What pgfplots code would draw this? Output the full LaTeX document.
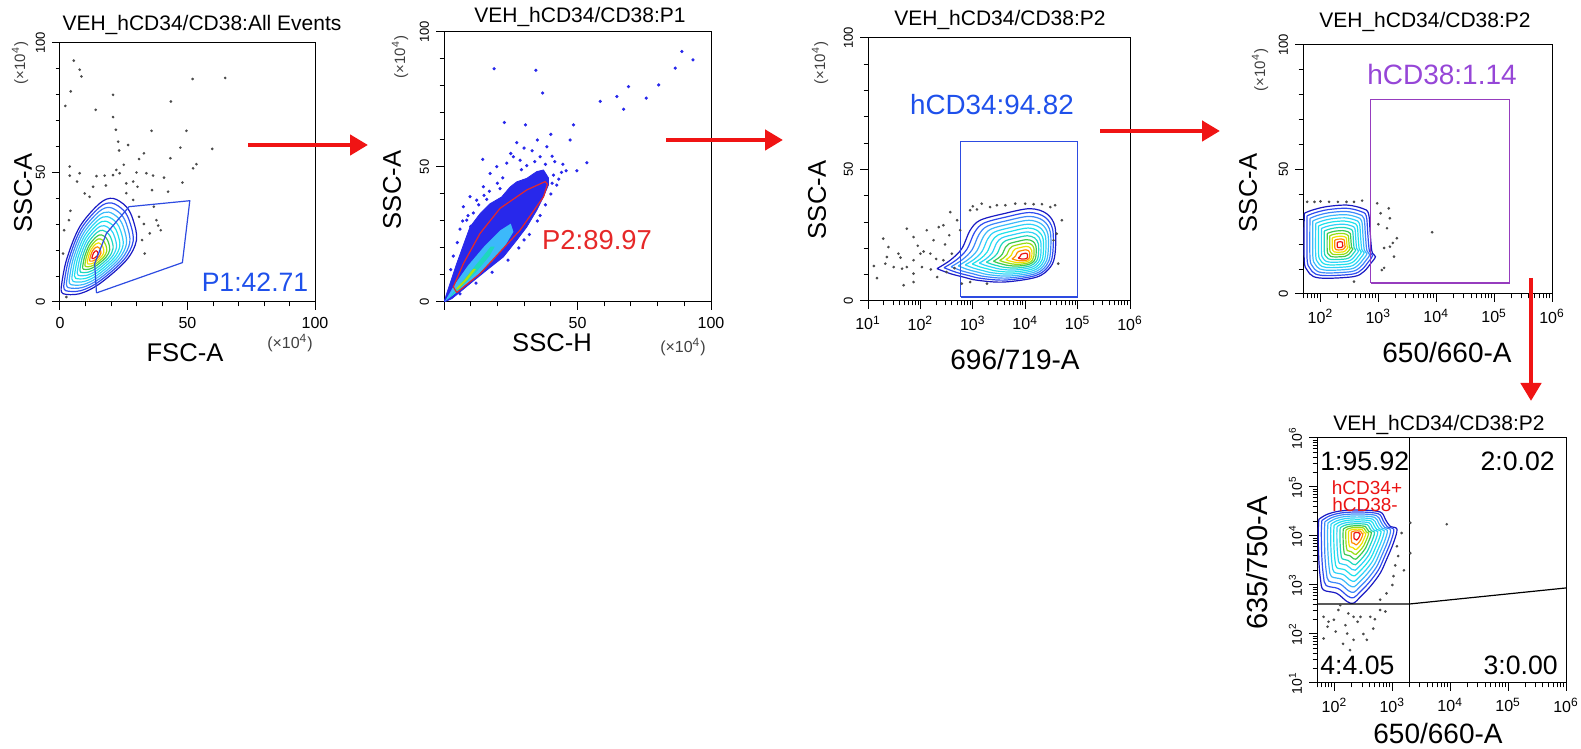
\documentclass[border=0pt]{standalone}
\usepackage{fontspec}
\setmainfont{Liberation Sans}
\usepackage{pgfplots}
\pgfplotsset{compat=1.18}
\usepackage{pgfplotstable}
\usetikzlibrary{arrows.meta}
\newcommand\ft[1]{\fontsize{#1}{#1}\selectfont}
\definecolor{cA}{RGB}{25,25,195}
\definecolor{cB}{RGB}{45,75,240}
\definecolor{cC}{RGB}{60,135,250}
\definecolor{cD}{RGB}{60,185,250}
\definecolor{cE}{RGB}{45,210,248}
\definecolor{cF}{RGB}{30,225,235}
\definecolor{cG}{RGB}{30,215,190}
\definecolor{cH}{RGB}{60,200,80}
\definecolor{cI}{RGB}{150,220,20}
\definecolor{cJ}{RGB}{240,225,0}
\definecolor{cK}{RGB}{255,140,0}
\definecolor{cL}{RGB}{235,20,20}
\definecolor{gblue}{RGB}{45,75,225}
\definecolor{tblue}{RGB}{30,80,235}
\definecolor{gred}{RGB}{230,40,40}
\definecolor{gpur}{RGB}{150,60,190}
\definecolor{tpur}{RGB}{150,70,215}
\definecolor{dblue}{RGB}{40,40,235}
\definecolor{arred}{RGB}{240,20,20}

\pgfplotstableread{
x y
0.5 5.8
2.5 16.1
7.7 29
15.6 38.1
20.8 40
26 36.8
28.7 31.6
30 23.9
26 16.1
15.6 7.1
7.7 3.2
1.2 3.2
0.5 5.8
}\cOne
\pgfplotstableread{
x y
2.315 12.3
2.57 15.5
2.79 19.9
2.95 26.9
3.14 30.7
3.59 33.2
4.09 35.1
4.41 33.2
4.57 28.1
4.57 18
4.48 12.9
4.22 9.1
3.59 7.2
3.08 7.9
2.82 9.1
2.57 10.4
2.315 12.3
}\cThree
\pgfplotstableread{
x y
1.72 32.4
1.86 33.7
2.11 35.1
2.46 35.7
2.72 34.4
2.83 32.4
2.86 24.4
2.89 17
2.95 15
2.87 12.3
2.75 9
2.58 7
2.11 6.3
1.88 7
1.77 9.6
1.72 13.7
1.72 32.4
}\cFour
\pgfplotstableread{
x y
1.73 4.34
1.87 4.44
2.10 4.51
2.45 4.53
2.79 4.49
2.88 4.34
2.96 4.20
3.08 4.14
3.02 3.86
2.90 3.52
2.79 3.24
2.62 2.97
2.45 2.76
2.33 2.63
2.22 2.66
2.04 2.83
1.81 2.90
1.76 3.11
1.73 3.52
1.72 4.06
1.73 4.34
}\cFive

\newcommand{\lvLL}[5]{\addplot[draw=#5,line width=0.6pt,smooth,tension=0.55] table[x expr={#2+#4*(\thisrow{x}-#2)},y expr={#3+#4*(\thisrow{y}-#3)}]{#1};}
\newcommand{\lvGL}[5]{\addplot[draw=#5,line width=0.6pt,smooth,tension=0.55] table[x expr={10^(#2+#4*(\thisrow{x}-#2))},y expr={#3+#4*(\thisrow{y}-#3)}]{#1};}
\newcommand{\lvGG}[5]{\addplot[draw=#5,line width=0.6pt,smooth,tension=0.55] table[x expr={10^(#2+#4*(\thisrow{x}-#2))},y expr={10^(#3+#4*(\thisrow{y}-#3))}]{#1};}
\newcommand{\contours}[4]{%
#1{#2}{#3}{#4}{1.00}{cA}#1{#2}{#3}{#4}{0.92}{cB}#1{#2}{#3}{#4}{0.84}{cC}%
#1{#2}{#3}{#4}{0.76}{cD}#1{#2}{#3}{#4}{0.68}{cE}#1{#2}{#3}{#4}{0.60}{cF}%
#1{#2}{#3}{#4}{0.52}{cE}#1{#2}{#3}{#4}{0.44}{cG}#1{#2}{#3}{#4}{0.36}{cH}%
#1{#2}{#3}{#4}{0.29}{cI}#1{#2}{#3}{#4}{0.22}{cJ}#1{#2}{#3}{#4}{0.15}{cK}%
#1{#2}{#3}{#4}{0.08}{cL}}

\pgfplotsset{
 fc/.style={scale only axis, anchor=south west,
  axis line style={line width=0.5pt},
  tick align=outside, tick pos=left,
  major tick length=4pt, minor tick length=2.2pt,
  every tick/.style={line width=0.5pt,black},
  xticklabel style={font=\ft{8}},
  yticklabel style={font=\ft{6.5},rotate=90,anchor=south},
  /pgf/number format/assume math mode=true},
 minlogx/.style={
  minor xtick={20,30,40,50,60,70,80,90,200,300,400,500,600,700,800,900,2000,3000,4000,5000,6000,7000,8000,9000,20000,30000,40000,50000,60000,70000,80000,90000,200000,300000,400000,500000,600000,700000,800000,900000}},
 minlogy/.style={
  minor ytick={20,30,40,50,60,70,80,90,200,300,400,500,600,700,800,900,2000,3000,4000,5000,6000,7000,8000,9000,20000,30000,40000,50000,60000,70000,80000,90000,200000,300000,400000,500000,600000,700000,800000,900000}},
 dots/.style={only marks,mark=*,mark size=0.45pt,color=black!70,mark options={draw=none,fill=black!70}},
 bdots/.style={only marks,mark=*,mark size=0.6pt,color=dblue,mark options={draw=none,fill=dblue}},
}

\begin{document}
\begin{tikzpicture}
\useasboundingbox (0,0) rectangle (790.5pt,374.5pt);

% ---------- Panel 1 ----------
\begin{axis}[fc, at={(30pt,223.5pt)}, width=127.5pt, height=129.5pt,
 xmin=0,xmax=100,ymin=0,ymax=100, xtick={0,50,100}, ytick={0,50,100}, minor tick num=4]
\addplot[dots] coordinates {(5.4,93.2)(7.7,89.7)(8.4,87.1)(4.2,81.3)(2.1,75.7)(14,74.2)(20.8,80)(20.8,71.4)(21.9,66.5)(52,86.1)(64.8,86.5)(43.5,77.4)(35.9,66.1)(49.6,66.1)(47.2,59.6)(59.7,59.1)(26.7,60.6)(22.8,61.9)(32.9,57.4)(23.2,58.5)(43.3,55.5)(31,55.2)(53.5,53.2)(52.2,51.6)(3.8,52.3)(7.7,49.7)(3.8,48.8)(6.7,46.5)(14.3,48.6)(17.5,48.8)(20.8,49)(23.4,49.7)(26,45.8)(28.7,46.5)(33.9,49.7)(36.5,48.8)(40.8,48)(48,46.1)(30.4,44.5)(36.1,43.2)(42.4,42.6)(12.96,44.5)(9.7,41.9)(26,42)(28.7,39.4)(22.1,51)(11.6,40.6)(4.1,35.2)(3.5,31.6)(1.6,27.7)(31,32.9)(32.9,30.1)(37.8,31.6)(39.5,27.7)(36.8,36.8)(38.5,29.5)(35.2,26.5)(32.2,23.9)(33.2,18.7)(1.2,18.7)(2.5,1.9)(18,45)(25,53)(30,50)};
\contours{\lvLL}{\cOne}{13.6}{18}
\addplot[draw=gblue,line width=0.6pt] coordinates {(14.3,3.5)(48,15.2)(50.9,39.1)(27.1,36.8)(18.2,26.5)(13.6,14.8)(14.3,3.5)};
\end{axis}

% ---------- Panel 2 ----------
\begin{axis}[fc, at={(222pt,223.5pt)}, width=133.5pt, height=135pt,
 xmin=0,xmax=100,ymin=0,ymax=100, xtick={0,50,100}, xticklabels={,50,100}, ytick={0,50,100}, minor tick num=4]
\addplot[bdots] coordinates {(18.75,86.4)(34.4,85.8)(36.9,77.4)(58.5,74.3)(64.75,76.1)(67.25,71.4)(69.1,79.8)(75.75,75.5)(80.4,80.4)(86.6,86.6)(89.1,92.8)(93.25,89.7)(22.6,66.5)(30.5,65.6)(48.5,65.6)(47.25,60)(40,62.1)(27.25,59)(53.5,51.6)(49.75,48.6)(45.75,48.6)(42.25,43.3)(14.5,52.8)(38.5,57.5)(36,53.8)(40.5,54)(44.5,51)(9.75,39)(12.25,37.7)(7.25,35.3)(11,33)(8.5,30.3)(14.75,42.7)(17.25,47.6)(19.75,50.1)(23.5,51.4)(26,53.8)(28.5,52.5)(31,50.5)(22,46)(17,41)(13,36)(6,27)(5,22)(3.5,17)(2.5,12)(41,47)(43,45.5)(25,55)(33,56)(20,44)(16,38)(10,28)(35,60)(30,57)(41.5,52)(38,51)(34,52)(29,49)(21,42)(15,39.5)(9,32)(7,30)(44,48)(40,40)(38,36)(35,30)(32,25)(28,20)(24,15.5)(18,11)(12,7)(6,3)(40.5,44)(36,32)(30,23)};
\addplot[draw=dblue,fill=dblue,line width=0.4pt] coordinates {(0,0)(2.9,1.2)(9.75,6.8)(16,11.8)(22.25,16.7)(27.25,22.9)(31,27.8)(34.75,34)(37.25,39)(39.1,43.3)(39.1,46)(37.25,48.9)(34.75,48.3)(31,45.8)(27.25,44.5)(24.75,42.6)(21.6,38.9)(17.25,36.4)(13.5,32.7)(9.75,27.8)(7.9,22.8)(4.75,14.2)(1,3.1)(0,0)};
\addplot[draw=none,fill=cD] coordinates {(0.3,0.2)(6,4.5)(12,9.5)(18,15)(23,21)(26,26)(25,29)(21,26.5)(15,20.5)(9,13.5)(4,6.5)(0.3,0.2)};
\addplot[draw=none,fill=cG] coordinates {(2,1.5)(7,6)(12,11)(17,17)(19,20.5)(17.5,20.5)(13,15)(8,9)(3.5,3.5)(2,1.5)};
\addplot[draw=none,fill=cI!70!cJ] coordinates {(5,4.5)(9,8.5)(12,12.2)(11,12.3)(7.5,8)(4.5,5)(5,4.5)};
\addplot[draw=gred,line width=0.6pt] coordinates {(4.75,3.5)(13.5,10.5)(28.5,26.6)(37.3,39)(38.75,43.6)(37.9,44.6)(31,41.5)(21,34.7)(13.5,25.4)(7.25,14.2)(3.5,5.6)(4.75,3.5)};
\end{axis}

% ---------- Panel 3 ----------
\begin{axis}[fc, xmode=log, minlogx, at={(434pt,224pt)}, width=131pt, height=131.5pt,
 xmin=10,xmax=1000000,ymin=0,ymax=100,
 xtick={10,100,1000,10000,100000,1000000},
 xticklabels={10\textsuperscript{1},10\textsuperscript{2},10\textsuperscript{3},10\textsuperscript{4},10\textsuperscript{5},10\textsuperscript{6}},
 ytick={0,50,100}, minor y tick num=4]
\addplot[dots] coordinates {(12.9,13.3)(14.8,8.7)(19.5,23.7)(22.9,16.7)(24.5,20.5)(21.4,14.2)(30.9,12.9)(38,18)(41.7,16.5)(44.7,12.3)(47.9,6)(55,27.5)(55,12.9)(74,24.3)(74,15.5)(74,10.4)(74,7.2)(100,18)(107,12.9)(115,18.8)(132,26.9)(155,18)(178,23.1)(209,9.1)(224,28.1)(275,28.8)(275,15.5)(295,21.5)(372,33.8)(398,18)(501,30.7)(575,26.9)(891,34.5)(1202,34.8)(1479,37)(2138,35.7)(2884,36.4)(4169,36.4)(6457,37)(10000,37)(14450,36.8)(20890,36.8)(30200,35.7)(37150,36.4)(50120,30.7)(39810,25.6)(42660,14.2)(34670,23.1)(1862,6.6)(891,7.2)(617,6.6)(158,12)(316,11)(89,21)(200,16)(447,12.5)(1000,36)(355,25)};
\contours{\lvGL}{\cThree}{4.0}{16.7}
\addplot[draw=gblue,line width=0.6pt] coordinates {(590,1.5)(100000,1.5)(100000,60.5)(590,60.5)(590,1.5)};
\end{axis}

% ---------- Panel 4 ----------
\begin{axis}[fc, xmode=log, minlogx, at={(651.5pt,227.5pt)}, width=124.5pt, height=124.5pt,
 xmin=50,xmax=1000000,ymin=0,ymax=100,
 xtick={100,1000,10000,100000,1000000},
 xticklabels={10\textsuperscript{2},10\textsuperscript{3},10\textsuperscript{4},10\textsuperscript{5},10\textsuperscript{6}},
 ytick={0,50,100}, minor y tick num=4]
\addplot[dots] coordinates {(59,37)(79,37)(100,37.2)(141,37)(200,37)(282,37)(380,37)(525,37.5)(955,36.4)(1096,32.4)(1514,34.4)(1585,30.4)(1413,26.4)(2089,22.4)(1585,19)(1259,18.5)(1862,15)(1148,9.6)(8511,24.8)(1259,10.5)(380,5)(1000,28)(1778,20.5)};
\contours{\lvGL}{\cFour}{2.34}{19.7}
\addplot[draw=gpur,line width=0.6pt] coordinates {(740,4.4)(186000,4.4)(186000,78)(740,78)(740,4.4)};
\end{axis}

% ---------- Panel 5 ----------
\begin{axis}[fc, xmode=log, ymode=log, minlogx, minlogy, at={(658.5pt,33pt)}, width=124.5pt, height=122.5pt,
 xmin=50,xmax=1000000,ymin=10,ymax=1000000,
 xtick={100,1000,10000,100000,1000000},
 xticklabels={10\textsuperscript{2},10\textsuperscript{3},10\textsuperscript{4},10\textsuperscript{5},10\textsuperscript{6}},
 ytick={10,100,1000,10000,100000,1000000},
 yticklabels={10\textsuperscript{1},10\textsuperscript{2},10\textsuperscript{3},10\textsuperscript{4},10\textsuperscript{5},10\textsuperscript{6}},
 yticklabel style={font=\ft{7}}]
\addplot[dots] coordinates {(65,224)(79,178)(117,309)(174,263)(98,195)(155,151)(214,224)(282,224)(417,224)(468,129)(105,112)(166,102)(214,76)(363,76)(186,47)(65,81)(76,141)(759,288)(617,309)(126,389)(316,100)(251,178)(141,63)(501,200)(1445,11480)(1202,6166)(1259,3890)(1122,2512)(1047,1514)(1000,1000)(794,676)(617,501)(2042,18620)(2042,4467)(8710,17380)(1585,1995)};
\contours{\lvGG}{\cFive}{2.39}{4.03}
\addplot[black,line width=0.6pt] coordinates {(2000,10)(2000,1000000)};
\addplot[black,line width=0.6pt] coordinates {(50,410)(2000,410)(1000000,870)};
\end{axis}

% ---------- texts and arrows (pixel coordinates) ----------
\begin{scope}[x=0.5pt,y=-0.5pt,shift={(0pt,374.5pt)}]
\node[font=\ft{10.5}] at (202,25) {VEH\_hCD34/CD38:All Events};
\node[font=\ft{10.5}] at (580,17) {VEH\_hCD34/CD38:P1};
\node[font=\ft{10.5}] at (1000,20) {VEH\_hCD34/CD38:P2};
\node[font=\ft{10.5}] at (1425,22) {VEH\_hCD34/CD38:P2};
\node[font=\ft{10.5}] at (1439,425) {VEH\_hCD34/CD38:P2};
\node[font=\ft{12.8},rotate=90] at (23,193) {SSC-A};
\node[font=\ft{12.8}] at (185,353) {FSC-A};
\node[font=\ft{12.8},rotate=90] at (392,190) {SSC-A};
\node[font=\ft{12.8}] at (552,343) {SSC-H};
\node[font=\ft{12.8},rotate=90] at (817,200) {SSC-A};
\node[font=\ft{14}] at (1015,360) {696/719-A};
\node[font=\ft{12.8},rotate=90] at (1248,193) {SSC-A};
\node[font=\ft{14}] at (1447,353) {650/660-A};
\node[font=\ft{14.5},rotate=90] at (1257,563) {635/750-A};
\node[font=\ft{14},inner sep=0pt] at (1438,733) {650/660-A};
\node[font=\ft{7.5},text=black!75,rotate=90] at (20,63) {(×10\textsuperscript{4})};
\node[font=\ft{7.5},text=black!75,rotate=90] at (400,57) {(×10\textsuperscript{4})};
\node[font=\ft{7.5},text=black!75,rotate=90] at (820,63) {(×10\textsuperscript{4})};
\node[font=\ft{7.5},text=black!75,rotate=90] at (1260,70) {(×10\textsuperscript{4})};
\node[font=\ft{8},text=black!75] at (290,343) {(×10\textsuperscript{4})};
\node[font=\ft{8},text=black!75] at (683,347) {(×10\textsuperscript{4})};
\node[font=\ft{13.3},text=tblue] at (255,282) {P1:42.71};
\node[font=\ft{13.7},text=gred] at (597,240) {P2:89.97};
\node[font=\ft{13.9},text=tblue] at (992,105) {hCD34:94.82};
\node[font=\ft{14},text=tpur] at (1442,75) {hCD38:1.14};
\node[font=\ft{13.3},anchor=west,inner sep=0pt] at (1320,461) {1:95.92};
\node[font=\ft{13.3},anchor=east,inner sep=0pt] at (1555,461) {2:0.02};
\node[font=\ft{13.3},anchor=west,inner sep=0pt] at (1320,665) {4:4.05};
\node[font=\ft{13.3},anchor=east,inner sep=0pt] at (1558,665) {3:0.00};
\node[font=\ft{9.5},text=cL] at (1367,488) {hCD34+};
\node[font=\ft{9.5},text=cL] at (1365,505) {hCD38-};
\draw[arred,line width=2.3pt,-{Triangle[length=9pt,width=10pt]}] (248,145) -- (368,145);
\draw[arred,line width=2.3pt,-{Triangle[length=9pt,width=10pt]}] (666,140) -- (783,140);
\draw[arred,line width=2.3pt,-{Triangle[length=9pt,width=10pt]}] (1100,131) -- (1220,131);
\draw[arred,line width=2.3pt,-{Triangle[length=9pt,width=10pt]}] (1531,278) -- (1531,401);
\end{scope}
\end{tikzpicture}
\end{document}
